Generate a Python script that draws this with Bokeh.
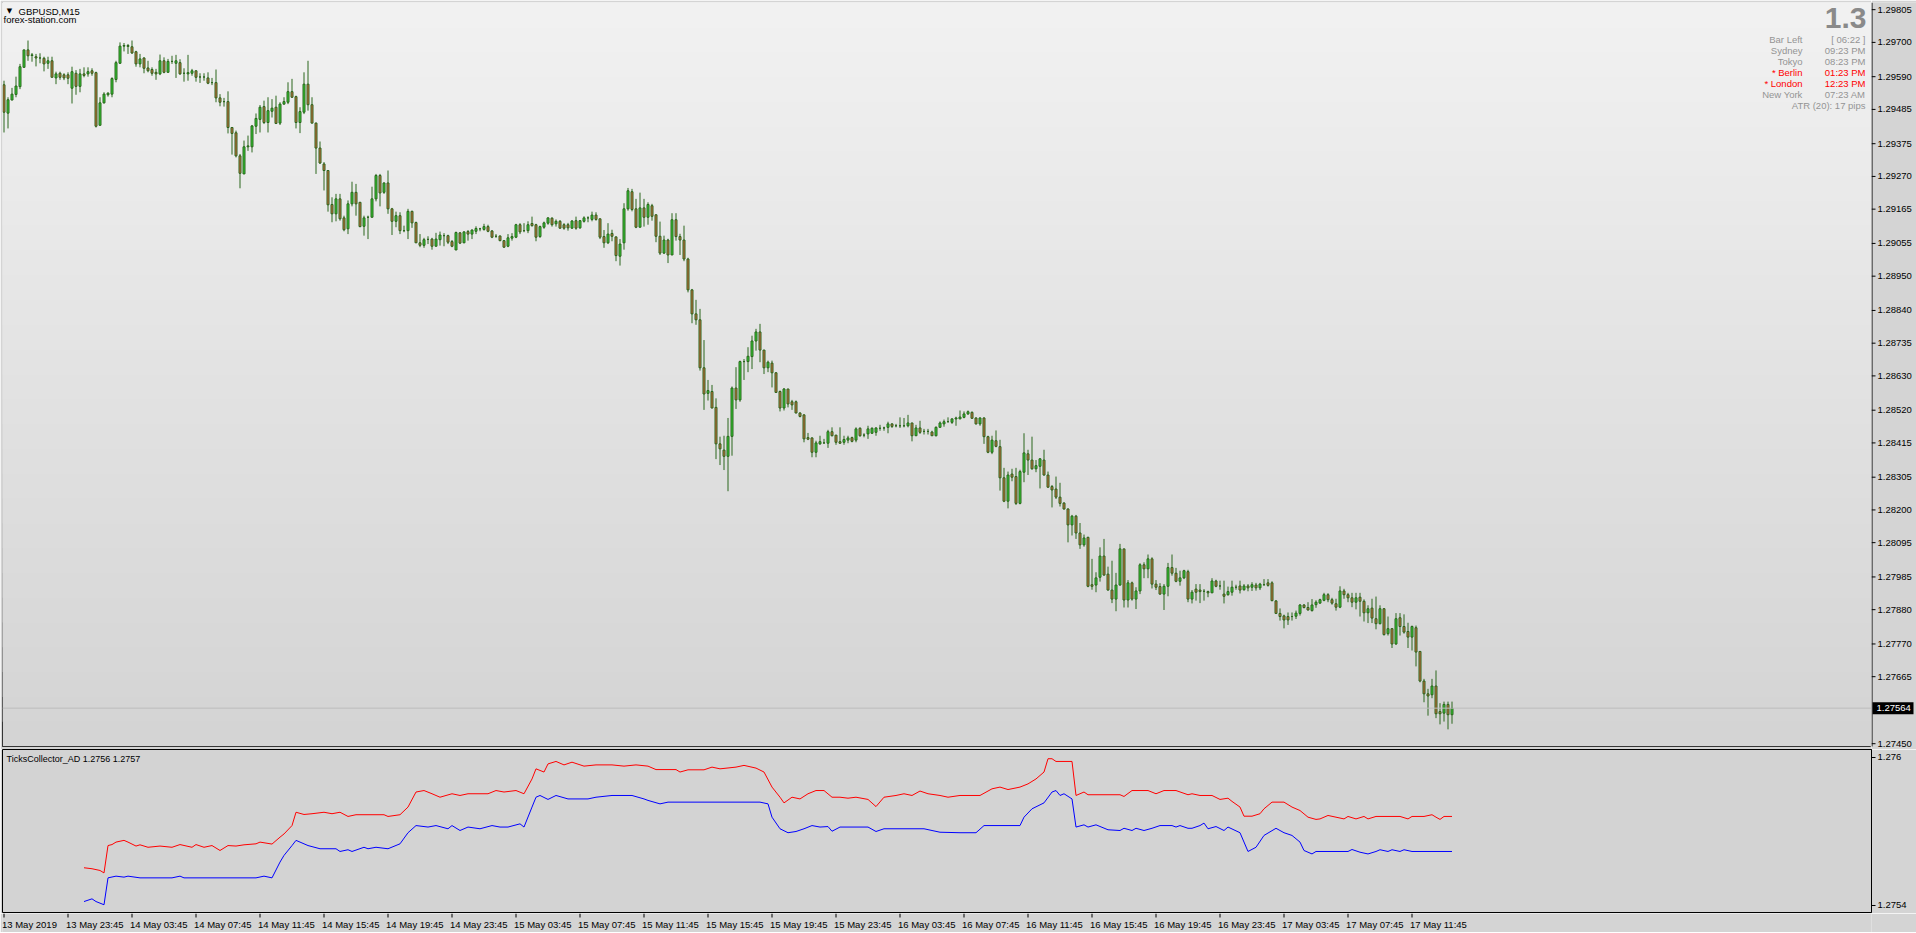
import numpy as np
from bokeh.plotting import figure
from bokeh.layouts import column, row
from bokeh.models import (ColumnDataSource, Range1d, FixedTicker, CustomJSTickFormatter,
                          Label, Span)
from bokeh.core.properties import value
from bokeh.embed import file_html
from bokeh.resources import INLINE

# ---------------- data (GBPUSD M15, bars from 13 May 2019 19:45) ----------------
OPEN = [
1.29564,1.29473,1.29515,1.29533,1.29558,1.29620,1.29676,1.29658,1.29654,1.29650,
1.29649,1.29633,1.29641,1.29586,1.29601,1.29596,1.29596,1.29553,1.29601,1.29559,
1.29599,1.29599,1.29609,1.29603,1.29434,1.29506,1.29532,1.29534,1.29581,1.29633,
1.29688,1.29690,1.29686,1.29670,1.29631,1.29650,1.29618,1.29613,1.29604,1.29599,
1.29641,1.29604,1.29639,1.29633,1.29635,1.29601,1.29599,1.29601,1.29609,1.29589,
1.29589,1.29586,1.29571,1.29571,1.29522,1.29510,1.29510,1.29427,1.29410,1.29336,
1.29278,1.29365,1.29365,1.29431,1.29453,1.29494,1.29443,1.29479,1.29492,1.29441,
1.29502,1.29508,1.29542,1.29526,1.29443,1.29476,1.29566,1.29500,1.29441,1.29361,
1.29310,1.29289,1.29180,1.29150,1.29198,1.29137,1.29102,1.29182,1.29219,1.29187,
1.29110,1.29139,1.29139,1.29198,1.29273,1.29219,1.29249,1.29166,1.29126,1.29144,
1.29096,1.29096,1.29158,1.29122,1.29057,1.29049,1.29068,1.29069,1.29046,1.29067,
1.29080,1.29080,1.29061,1.29034,1.29089,1.29057,1.29093,1.29085,1.29094,1.29102,
1.29100,1.29109,1.29095,1.29078,1.29079,1.29064,1.29046,1.29072,1.29075,1.29115,
1.29096,1.29096,1.29119,1.29115,1.29077,1.29107,1.29120,1.29136,1.29118,1.29126,
1.29115,1.29115,1.29104,1.29128,1.29105,1.29126,1.29137,1.29132,1.29146,1.29134,
1.29077,1.29057,1.29087,1.29076,1.29014,1.29057,1.29166,1.29221,1.29166,1.29107,
1.29169,1.29139,1.29176,1.29147,1.29078,1.29024,1.29066,1.29018,1.29131,1.29077,
1.29066,1.29005,1.28906,1.28829,1.28810,1.28656,1.28574,1.28580,1.28529,1.28412,
1.28392,1.28372,1.28436,1.28591,1.28553,1.28676,1.28676,1.28692,1.28742,1.28771,
1.28713,1.28656,1.28671,1.28640,1.28580,1.28527,1.28588,1.28547,1.28547,1.28511,
1.28505,1.28432,1.28431,1.28385,1.28412,1.28415,1.28414,1.28451,1.28440,1.28419,
1.28417,1.28424,1.28432,1.28424,1.28462,1.28440,1.28444,1.28446,1.28449,1.28462,
1.28463,1.28465,1.28476,1.28470,1.28470,1.28470,1.28470,1.28479,1.28438,1.28463,
1.28452,1.28452,1.28450,1.28438,1.28465,1.28476,1.28483,1.28481,1.28492,1.28492,
1.28497,1.28508,1.28513,1.28495,1.28476,1.28495,1.28435,1.28385,1.28422,1.28403,
1.28303,1.28228,1.28315,1.28307,1.28221,1.28321,1.28380,1.28360,1.28332,1.28340,
1.28360,1.28312,1.28275,1.28267,1.28241,1.28222,1.28203,1.28152,1.28180,1.28126,
1.28088,1.28112,1.27960,1.27959,1.27984,1.28052,1.27994,1.27943,1.27914,1.27959,
1.28075,1.27911,1.27966,1.27914,1.27940,1.28024,1.28011,1.28043,1.27962,1.27954,
1.27930,1.27955,1.28015,1.27997,1.27971,1.27982,1.28002,1.27914,1.27946,1.27943,
1.27939,1.27938,1.27934,1.27972,1.27956,1.27930,1.27928,1.27936,1.27952,1.27956,
1.27944,1.27956,1.27952,1.27959,1.27950,1.27960,1.27966,1.27966,1.27908,1.27868,
1.27860,1.27858,1.27858,1.27859,1.27868,1.27895,1.27887,1.27877,1.27896,1.27901,
1.27910,1.27928,1.27912,1.27899,1.27888,1.27940,1.27928,1.27918,1.27904,1.27920,
1.27907,1.27870,1.27885,1.27851,1.27835,1.27883,1.27803,1.27819,1.27770,1.27854,
1.27826,1.27810,1.27792,1.27822,1.27746,1.27651,1.27610,1.27607,1.27635,1.27553,
1.27548,1.27576,1.27543]

HIGH = [
1.29577,1.29524,1.29554,1.29590,1.29631,1.29676,1.29706,1.29666,1.29663,1.29665,
1.29654,1.29654,1.29654,1.29606,1.29606,1.29601,1.29604,1.29622,1.29611,1.29615,
1.29620,1.29620,1.29617,1.29606,1.29524,1.29540,1.29540,1.29588,1.29641,1.29700,
1.29698,1.29695,1.29706,1.29673,1.29663,1.29652,1.29641,1.29620,1.29615,1.29661,
1.29652,1.29647,1.29657,1.29660,1.29646,1.29617,1.29660,1.29615,1.29609,1.29601,
1.29601,1.29604,1.29586,1.29613,1.29534,1.29522,1.29543,1.29427,1.29417,1.29342,
1.29385,1.29401,1.29435,1.29472,1.29499,1.29513,1.29524,1.29518,1.29529,1.29508,
1.29524,1.29572,1.29583,1.29529,1.29492,1.29604,1.29641,1.29524,1.29443,1.29382,
1.29316,1.29289,1.29203,1.29214,1.29214,1.29144,1.29193,1.29253,1.29246,1.29187,
1.29144,1.29144,1.29237,1.29278,1.29278,1.29251,1.29289,1.29169,1.29157,1.29155,
1.29112,1.29166,1.29160,1.29125,1.29085,1.29073,1.29078,1.29073,1.29089,1.29093,
1.29088,1.29083,1.29066,1.29093,1.29091,1.29094,1.29098,1.29100,1.29110,1.29105,
1.29118,1.29115,1.29098,1.29085,1.29080,1.29066,1.29085,1.29088,1.29118,1.29120,
1.29120,1.29126,1.29141,1.29118,1.29112,1.29125,1.29139,1.29139,1.29132,1.29130,
1.29120,1.29121,1.29130,1.29141,1.29130,1.29142,1.29142,1.29157,1.29155,1.29134,
1.29098,1.29120,1.29099,1.29077,1.29069,1.29184,1.29233,1.29230,1.29198,1.29218,
1.29198,1.29187,1.29182,1.29147,1.29125,1.29080,1.29070,1.29152,1.29152,1.29086,
1.29112,1.29009,1.28909,1.28874,1.28845,1.28745,1.28617,1.28601,1.28558,1.28435,
1.28438,1.28495,1.28596,1.28658,1.28679,1.28684,1.28722,1.28759,1.28781,1.28797,
1.28713,1.28679,1.28679,1.28642,1.28583,1.28591,1.28588,1.28553,1.28551,1.28513,
1.28506,1.28447,1.28433,1.28422,1.28438,1.28428,1.28457,1.28465,1.28440,1.28465,
1.28438,1.28438,1.28435,1.28465,1.28465,1.28446,1.28470,1.28465,1.28465,1.28473,
1.28467,1.28483,1.28478,1.28476,1.28497,1.28495,1.28505,1.28479,1.28473,1.28486,
1.28460,1.28460,1.28454,1.28468,1.28484,1.28490,1.28497,1.28494,1.28499,1.28519,
1.28516,1.28519,1.28516,1.28497,1.28497,1.28497,1.28438,1.28438,1.28455,1.28425,
1.28335,1.28323,1.28332,1.28335,1.28329,1.28446,1.28393,1.28435,1.28360,1.28366,
1.28393,1.28323,1.28280,1.28307,1.28287,1.28225,1.28205,1.28184,1.28184,1.28158,
1.28121,1.28114,1.28043,1.28000,1.28080,1.28107,1.28018,1.28037,1.27998,1.28091,
1.28075,1.27975,1.27970,1.27952,1.28029,1.28032,1.28057,1.28048,1.27975,1.27965,
1.27962,1.28030,1.28057,1.28014,1.28005,1.28008,1.28008,1.27943,1.27962,1.27962,
1.27946,1.27941,1.27981,1.27976,1.27973,1.27973,1.27954,1.27973,1.27960,1.27973,
1.27962,1.27962,1.27968,1.27966,1.27966,1.27978,1.27978,1.27971,1.27911,1.27884,
1.27864,1.27871,1.27871,1.27877,1.27898,1.27898,1.27904,1.27914,1.27910,1.27915,
1.27934,1.27933,1.27918,1.27915,1.27955,1.27947,1.27934,1.27934,1.27934,1.27934,
1.27913,1.27894,1.27915,1.27922,1.27894,1.27885,1.27858,1.27821,1.27869,1.27869,
1.27865,1.27838,1.27829,1.27829,1.27746,1.27658,1.27626,1.27658,1.27685,1.27580,
1.27585,1.27585,1.27585]

LOW = [
1.29411,1.29424,1.29515,1.29524,1.29550,1.29620,1.29641,1.29638,1.29623,1.29633,
1.29607,1.29615,1.29588,1.29566,1.29580,1.29579,1.29566,1.29504,1.29532,1.29540,
1.29588,1.29590,1.29593,1.29427,1.29434,1.29504,1.29526,1.29524,1.29572,1.29631,
1.29671,1.29663,1.29663,1.29622,1.29620,1.29601,1.29604,1.29593,1.29580,1.29595,
1.29601,1.29604,1.29631,1.29586,1.29596,1.29574,1.29577,1.29593,1.29574,1.29570,
1.29577,1.29566,1.29563,1.29508,1.29495,1.29494,1.29408,1.29340,1.29331,1.29232,
1.29278,1.29352,1.29347,1.29406,1.29411,1.29438,1.29411,1.29459,1.29438,1.29435,
1.29500,1.29502,1.29522,1.29424,1.29409,1.29470,1.29481,1.29440,1.29278,1.29310,
1.29225,1.29157,1.29123,1.29126,1.29128,1.29094,1.29085,1.29174,1.29144,1.29107,
1.29080,1.29069,1.29139,1.29190,1.29174,1.29214,1.29150,1.29082,1.29107,1.29085,
1.29091,1.29069,1.29105,1.29057,1.29043,1.29041,1.29053,1.29035,1.29046,1.29048,
1.29046,1.29053,1.29043,1.29034,1.29053,1.29056,1.29064,1.29069,1.29085,1.29094,
1.29096,1.29091,1.29072,1.29073,1.29062,1.29041,1.29043,1.29064,1.29072,1.29085,
1.29091,1.29088,1.29109,1.29062,1.29073,1.29102,1.29115,1.29109,1.29109,1.29102,
1.29099,1.29096,1.29102,1.29099,1.29102,1.29122,1.29123,1.29126,1.29128,1.29069,
1.29041,1.29053,1.29062,1.28998,1.28984,1.29035,1.29160,1.29158,1.29104,1.29107,
1.29109,1.29115,1.29128,1.29059,1.29018,1.29021,1.28992,1.29018,1.29064,1.29018,
1.28998,1.28898,1.28799,1.28794,1.28647,1.28521,1.28551,1.28526,1.28363,1.28344,
1.28328,1.28260,1.28374,1.28524,1.28547,1.28617,1.28642,1.28652,1.28711,1.28674,
1.28636,1.28642,1.28593,1.28577,1.28516,1.28519,1.28529,1.28521,1.28510,1.28497,
1.28417,1.28424,1.28369,1.28369,1.28409,1.28412,1.28399,1.28436,1.28409,1.28412,
1.28409,1.28414,1.28417,1.28417,1.28435,1.28433,1.28428,1.28444,1.28438,1.28454,
1.28454,1.28446,1.28463,1.28465,1.28463,1.28465,1.28465,1.28420,1.28438,1.28444,
1.28442,1.28442,1.28438,1.28436,1.28465,1.28467,1.28481,1.28476,1.28470,1.28492,
1.28494,1.28505,1.28492,1.28474,1.28470,1.28412,1.28382,1.28379,1.28401,1.28262,
1.28225,1.28205,1.28292,1.28216,1.28218,1.28289,1.28312,1.28329,1.28321,1.28269,
1.28310,1.28271,1.28208,1.28235,1.28211,1.28201,1.28096,1.28118,1.28107,1.28075,
1.28082,1.27952,1.27944,1.27936,1.27970,1.27989,1.27941,1.27901,1.27875,1.27957,
1.27887,1.27887,1.27909,1.27882,1.27930,1.27981,1.27981,1.27948,1.27943,1.27928,
1.27879,1.27923,1.27989,1.27968,1.27957,1.27978,1.27904,1.27900,1.27909,1.27901,
1.27909,1.27920,1.27934,1.27952,1.27944,1.27900,1.27925,1.27925,1.27944,1.27932,
1.27941,1.27939,1.27940,1.27941,1.27943,1.27957,1.27954,1.27907,1.27866,1.27845,
1.27820,1.27831,1.27845,1.27850,1.27861,1.27884,1.27877,1.27874,1.27886,1.27899,
1.27907,1.27904,1.27896,1.27877,1.27885,1.27915,1.27904,1.27888,1.27881,1.27858,
1.27842,1.27837,1.27837,1.27817,1.27833,1.27797,1.27797,1.27757,1.27767,1.27797,
1.27803,1.27757,1.27749,1.27698,1.27647,1.27583,1.27540,1.27596,1.27532,1.27512,
1.27521,1.27496,1.27514]

CLOSE = [
1.29476,1.29516,1.29534,1.29560,1.29622,1.29676,1.29657,1.29660,1.29650,1.29650,
1.29631,1.29641,1.29588,1.29599,1.29588,1.29586,1.29585,1.29606,1.29559,1.29599,
1.29594,1.29606,1.29601,1.29431,1.29506,1.29534,1.29537,1.29584,1.29635,1.29688,
1.29690,1.29687,1.29666,1.29631,1.29647,1.29617,1.29609,1.29601,1.29599,1.29641,
1.29604,1.29639,1.29639,1.29641,1.29599,1.29601,1.29603,1.29609,1.29588,1.29589,
1.29589,1.29569,1.29571,1.29522,1.29508,1.29510,1.29427,1.29408,1.29336,1.29280,
1.29365,1.29368,1.29432,1.29456,1.29492,1.29443,1.29481,1.29489,1.29440,1.29502,
1.29510,1.29542,1.29524,1.29443,1.29478,1.29566,1.29500,1.29441,1.29361,1.29313,
1.29289,1.29179,1.29150,1.29198,1.29134,1.29099,1.29182,1.29219,1.29182,1.29109,
1.29137,1.29139,1.29198,1.29273,1.29217,1.29249,1.29166,1.29126,1.29144,1.29096,
1.29096,1.29158,1.29121,1.29057,1.29049,1.29067,1.29068,1.29046,1.29069,1.29082,
1.29080,1.29059,1.29046,1.29090,1.29056,1.29092,1.29085,1.29098,1.29103,1.29102,
1.29109,1.29094,1.29075,1.29078,1.29064,1.29043,1.29073,1.29077,1.29115,1.29092,
1.29096,1.29115,1.29112,1.29075,1.29109,1.29121,1.29137,1.29115,1.29126,1.29104,
1.29104,1.29105,1.29127,1.29104,1.29128,1.29137,1.29137,1.29146,1.29132,1.29075,
1.29057,1.29085,1.29078,1.29016,1.29053,1.29166,1.29224,1.29164,1.29107,1.29169,
1.29139,1.29180,1.29142,1.29078,1.29024,1.29066,1.29018,1.29131,1.29077,1.29066,
1.29005,1.28906,1.28829,1.28810,1.28656,1.28572,1.28583,1.28527,1.28412,1.28396,
1.28372,1.28436,1.28591,1.28553,1.28676,1.28676,1.28693,1.28742,1.28771,1.28713,
1.28656,1.28674,1.28640,1.28577,1.28527,1.28588,1.28540,1.28537,1.28511,1.28500,
1.28428,1.28427,1.28385,1.28415,1.28419,1.28415,1.28451,1.28438,1.28417,1.28414,
1.28426,1.28431,1.28420,1.28460,1.28438,1.28440,1.28460,1.28462,1.28463,1.28462,
1.28463,1.28476,1.28468,1.28470,1.28470,1.28470,1.28479,1.28438,1.28463,1.28449,
1.28452,1.28452,1.28438,1.28465,1.28479,1.28483,1.28483,1.28492,1.28495,1.28498,
1.28508,1.28515,1.28494,1.28476,1.28495,1.28435,1.28385,1.28424,1.28404,1.28303,
1.28228,1.28312,1.28305,1.28221,1.28323,1.28383,1.28360,1.28332,1.28342,1.28364,
1.28312,1.28273,1.28264,1.28241,1.28221,1.28203,1.28152,1.28180,1.28126,1.28088,
1.28110,1.27955,1.27955,1.27982,1.28052,1.27991,1.27943,1.27914,1.27959,1.28075,
1.27911,1.27966,1.27914,1.27940,1.28024,1.28011,1.28043,1.27962,1.27952,1.27930,
1.27955,1.28015,1.27997,1.27971,1.27982,1.28005,1.27914,1.27936,1.27936,1.27938,
1.27939,1.27934,1.27972,1.27955,1.27956,1.27923,1.27938,1.27952,1.27952,1.27943,
1.27956,1.27950,1.27960,1.27950,1.27962,1.27960,1.27958,1.27909,1.27868,1.27858,
1.27847,1.27847,1.27858,1.27869,1.27895,1.27887,1.27879,1.27895,1.27904,1.27912,
1.27928,1.27912,1.27901,1.27888,1.27940,1.27928,1.27918,1.27904,1.27918,1.27907,
1.27870,1.27883,1.27853,1.27835,1.27883,1.27800,1.27819,1.27770,1.27851,1.27826,
1.27808,1.27792,1.27826,1.27744,1.27651,1.27610,1.27603,1.27635,1.27546,1.27546,
1.27576,1.27543,1.27564]

CURRENT_PRICE = 1.27564

# TicksCollector_AD indicator (bar index, value) read from the sub-window
AD_RED_BAR = [20,22,24,25,26,27,28,30,31,33,34,36,39,42,44,47,48,50,52,54,56,58,60,63,64,67,69,70,72,73,
              75,77,80,82,84,86,88,91,95,96,99,101,103,105,107,109,112,114,116,121,123,125,128,130,132,133,135,136,138,140,
              142,145,148,152,155,158,161,163,168,169,171,175,177,179,183,185,188,190,192,194,195,197,199,201,203,205,207,209,211,213,
              216,218,220,223,225,227,229,231,234,236,239,241,244,247,249,251,254,256,258,260,261,262,263,267,268,270,271,274,279,280,
              282,286,288,290,293,296,297,299,302,304,306,307,309,310,312,314,315,317,320,322,324,326,328,329,331,333,335,336,338,340,
              341,343,349,351,352,355,357,358,359,360,362]
AD_RED_VAL = [1.275553,1.275549,1.275542,1.275532,1.275643,1.275647,1.275657,1.275664,1.275657,1.275641,
              1.275646,1.275636,1.275641,1.275636,1.275647,1.275636,1.275647,1.275636,1.275643,1.275623,
              1.275643,1.275641,1.275646,1.275650,1.275657,1.275649,1.275677,1.275690,1.275724,1.275778,
              1.275769,1.275772,1.275778,1.275772,1.275778,1.275761,1.275768,1.275768,1.275768,1.275761,
              1.275768,1.275799,1.275860,1.275866,1.275853,1.275839,1.275853,1.275846,1.275853,1.275853,
              1.275866,1.275860,1.275866,1.275853,1.275913,1.275954,1.275941,1.275974,1.275984,1.275970,
              1.275981,1.275965,1.275970,1.275970,1.275965,1.275970,1.275965,1.275951,1.275951,1.275941,
              1.275950,1.275950,1.275961,1.275954,1.275961,1.275968,1.275957,1.275941,1.275880,1.275839,
              1.275816,1.275839,1.275832,1.275853,1.275866,1.275866,1.275839,1.275839,1.275835,1.275839,
              1.275830,1.275801,1.275839,1.275846,1.275853,1.275846,1.275864,1.275853,1.275846,1.275839,
              1.275846,1.275846,1.275846,1.275873,1.275880,1.275870,1.275880,1.275893,1.275913,1.275941,
              1.275995,1.275995,1.275984,1.275984,1.275846,1.275860,1.275849,1.275849,1.275849,1.275842,
              1.275866,1.275866,1.275853,1.275866,1.275866,1.275849,1.275853,1.275846,1.275846,1.275830,
              1.275835,1.275822,1.275799,1.275762,1.275762,1.275772,1.275792,1.275819,1.275819,1.275799,
              1.275785,1.275758,1.275749,1.275751,1.275765,1.275758,1.275751,1.275761,1.275751,1.275761,
              1.275751,1.275761,1.275761,1.275751,1.275761,1.275761,1.275768,1.275758,1.275749,1.275761,
              1.275761]
AD_BLUE_BAR = [20,22,23,25,26,28,30,31,34,42,44,45,63,65,67,69,70,72,73,76,79,83,84,86,87,90,91,93,96,99,
               101,103,106,108,111,112,114,116,119,122,124,126,129,130,132,133,134,136,138,141,146,148,152,157,160,161,164,166,189,191,
               192,194,196,198,200,202,204,206,207,209,216,218,220,230,232,234,239,243,245,254,255,257,260,262,263,264,265,267,268,270,
               271,273,276,279,280,282,283,285,287,289,292,293,294,296,297,299,300,301,303,305,306,309,311,313,315,318,320,322,324,325,
               327,328,336,337,339,341,343,344,346,347,349,350,352,362]
AD_BLUE_VAL = [1.275416,1.275427,1.275416,1.275403,1.275512,1.275519,1.275515,1.275519,1.275512,1.275512,
               1.275519,1.275512,1.275512,1.275519,1.275512,1.275576,1.275603,1.275643,1.275664,1.275643,
               1.275630,1.275630,1.275619,1.275626,1.275619,1.275636,1.275630,1.275636,1.275630,1.275650,
               1.275695,1.275724,1.275718,1.275724,1.275711,1.275724,1.275704,1.275718,1.275711,1.275724,
               1.275718,1.275718,1.275731,1.275718,1.275799,1.275839,1.275846,1.275830,1.275846,1.275832,
               1.275832,1.275839,1.275846,1.275846,1.275832,1.275826,1.275812,1.275819,1.275819,1.275812,
               1.275758,1.275711,1.275695,1.275700,1.275711,1.275724,1.275718,1.275720,1.275701,1.275718,
               1.275718,1.275700,1.275711,1.275711,1.275704,1.275697,1.275695,1.275695,1.275724,1.275724,
               1.275758,1.275792,1.275816,1.275860,1.275866,1.275846,1.275853,1.275832,1.275718,1.275727,
               1.275718,1.275727,1.275707,1.275704,1.275713,1.275704,1.275713,1.275704,1.275713,1.275724,
               1.275724,1.275718,1.275724,1.275713,1.275713,1.275724,1.275734,1.275711,1.275720,1.275704,
               1.275718,1.275695,1.275619,1.275636,1.275684,1.275713,1.275695,1.275684,1.275657,1.275623,
               1.275609,1.275619,1.275619,1.275627,1.275616,1.275609,1.275619,1.275626,1.275619,1.275626,
               1.275619,1.275626,1.275619,1.275619]

Y_TICKS = [1.29805,1.29700,1.29590,1.29485,1.29375,1.29270,1.29165,1.29055,1.28950,1.28840,1.28735,
           1.28630,1.28520,1.28415,1.28305,1.28200,1.28095,1.27985,1.27880,1.27770,1.27665,1.27450]
AD_TICKS = [1.2754, 1.276]
X_TICK_BARS = [0,16,32,48,64,80,96,112,128,144,160,176,192,208,224,240,256,272,288,304,320,336,352]
X_TICK_LABELS = ["13 May 2019","13 May 23:45","14 May 03:45","14 May 07:45","14 May 11:45","14 May 15:45",
                 "14 May 19:45","14 May 23:45","15 May 03:45","15 May 07:45","15 May 11:45","15 May 15:45",
                 "15 May 19:45","15 May 23:45","16 May 03:45","16 May 07:45","16 May 11:45","16 May 15:45",
                 "16 May 19:45","16 May 23:45","17 May 03:45","17 May 07:45","17 May 11:45"]
INFO_ROWS = [("Bar Left", "[ 06:22 ]", "#949494"), ("Sydney", "09:23 PM", "#949494"),
             ("Tokyo", "08:23 PM", "#949494"), ("* Berlin", "01:23 PM", "#ff0000"),
             ("* London", "12:23 PM", "#ff0000"), ("New York", "07:23 AM", "#949494")]

# ---------------- style ----------------
FONT = "Liberation Sans"
FS = "9.5px"
BULL = "#32cd32"
BEAR = "#d0693c"
WICK = "#2a661c"
PANEL = "#d4d4d4"
FW, H1, H2 = 1869, 744, 163
AXW = 45
SH = 19
X0 = -0.375
X1 = X0 + FW / 4.0
Y1LO, Y1HI = 1.27441, 1.29828
Y2LO, Y2HI = 1.2753716, 1.2760324
PX = (Y1HI - Y1LO) / H1          # price per pixel in the main panel


def lab(p, x, y, text, color="black", size=FS, align="left", baseline="middle",
        style="normal", font=FONT):
    p.add_layout(Label(x=x, y=y, x_units="screen", y_units="screen", text=text, text_color=color,
                       text_font=font, text_font_size=size, text_align=align,
                       text_baseline=baseline, text_font_style=style))


def base_fig(**kw):
    p = figure(toolbar_location=None, output_backend="svg", **kw)
    p.xgrid.visible = False
    p.ygrid.visible = False
    p.border_fill_color = PANEL
    p.background_fill_color = PANEL
    return p


# ---------------- main price panel ----------------
o = np.array(OPEN); h = np.array(HIGH); l = np.array(LOW); c = np.array(CLOSE)
idx = np.arange(len(c))
top = np.maximum(o, c); bot = np.minimum(o, c)
hi = np.maximum(h, top); lo = np.minimum(l, bot)
fill = [BULL if cc >= oo else BEAR for oo, cc in zip(o, c)]

p1 = base_fig(frame_width=FW, frame_height=H1, x_range=Range1d(X0, X1), y_range=Range1d(Y1LO, Y1HI),
              x_axis_location=None, y_axis_location=None,
              min_border_left=2, min_border_right=0, min_border_top=2, min_border_bottom=3)
p1.outline_line_color = "black"
p1.outline_line_width = 1

# vertical background gradient (light at top, grey at bottom)
NB = 30
band_bottom = Y1LO + (Y1HI - Y1LO) * np.arange(NB) / NB
lev = np.round(212 + (241 - 212) * (np.arange(NB) + 0.5) / NB).astype(int)
band_col = ["#%02x%02x%02x" % (v, v, v) for v in lev]
p1.quad(left=X0, right=X1, bottom=band_bottom, top=Y1HI, fill_color=band_col, line_color=None)

p1.add_layout(Span(location=CURRENT_PRICE, dimension="width", line_color="#bdbdbd", line_width=1))

src = ColumnDataSource(dict(x=idx, hi=hi, lo=lo, top=top, bot=bot, fill=fill))
p1.segment(x0="x", y0="lo", x1="x", y1="hi", source=src, line_color=WICK, line_width=1)
p1.vbar(x="x", width=0.5, top="top", bottom="bot", source=src, fill_color="fill",
        line_color=WICK, line_width=1)

# top-left symbol caption
lab(p1, 7, H1 - 8.5, "▼", size="7px", align="center", font="DejaVu Sans")
lab(p1, 16, H1 - 8.5, "GBPUSD,M15")
lab(p1, 1, H1 - 16.7, "forex-station.com")

# top-right info box
lab(p1, FW - 5, H1 - 15, "1.3", color="#8a8a8a", size="30px", align="right", style="bold")
for k, (name, val, col) in enumerate(INFO_ROWS):
    yy = H1 - (37 + 11 * k)
    lab(p1, FW - 69, yy, name, color=col, align="right")
    lab(p1, FW - 6, yy, val, color=col, align="right")
lab(p1, FW - 6, H1 - 103, "ATR (20): 17 pips", color="#949494", align="right")

# ---------------- main price scale (own strip, same price scale) ----------------
pA = base_fig(frame_width=AXW, frame_height=H1 + 3, x_range=Range1d(0, AXW),
              y_range=Range1d(Y1LO - 3 * PX, Y1HI), x_axis_location=None, y_axis_location=None,
              min_border_left=0, min_border_right=0, min_border_top=2, min_border_bottom=0)
pA.outline_line_color = None
pA.segment(x0=0.5, y0=Y1LO, x1=0.5, y1=Y1HI, line_color="black", line_width=1)
pA.segment(x0=0, y0=Y_TICKS, x1=4, y1=Y_TICKS, line_color="black", line_width=1)
pA.text(x=6, y=Y_TICKS, text=["%.5f" % t for t in Y_TICKS], text_font=value(FONT),
        text_font_size=value(FS), text_color="black", text_align="left", text_baseline="middle")
# current price tag
pA.quad(left=1, right=AXW - 3, bottom=CURRENT_PRICE - 6 * PX, top=CURRENT_PRICE + 6 * PX,
        fill_color="black", line_color=None)
pA.text(x=5, y=[CURRENT_PRICE], text=["%.5f" % CURRENT_PRICE], text_font=value(FONT),
        text_font_size=value(FS), text_color="white", text_align="left", text_baseline="middle")

# ---------------- indicator panel ----------------
p2 = base_fig(frame_width=FW, frame_height=H2, x_range=p1.x_range, y_range=Range1d(Y2LO, Y2HI),
              x_axis_location=None, y_axis_location="right",
              min_border_left=2, min_border_right=AXW, min_border_top=0, min_border_bottom=1)
p2.background_fill_color = "#d3d3d3"
p2.outline_line_color = "black"
p2.outline_line_width = 1

p2.line(x=AD_RED_BAR, y=AD_RED_VAL, line_color="#ff0000", line_width=1)
p2.line(x=AD_BLUE_BAR, y=AD_BLUE_VAL, line_color="#0000ff", line_width=1)

ax2 = p2.yaxis[0]
ax2.ticker = FixedTicker(ticks=AD_TICKS)
ax2.formatter = CustomJSTickFormatter(code="return tick.toFixed(4).replace(/0+$/, '');")
ax2.axis_line_color = "black"
ax2.major_tick_line_color = "black"
ax2.major_tick_out = 4
ax2.major_tick_in = 0
ax2.minor_tick_line_color = None
ax2.major_label_text_font = FONT
ax2.major_label_text_font_size = FS
ax2.major_label_text_color = "black"
ax2.major_label_standoff = 2

lab(p2, 4, H2 - 9, "TicksCollector_AD 1.2756 1.2757", size="9px")

# ---------------- time scale strip ----------------
pS = base_fig(frame_width=FW, frame_height=SH, x_range=p1.x_range, y_range=Range1d(0, SH),
              x_axis_location=None, y_axis_location=None,
              min_border_left=2, min_border_right=AXW, min_border_top=0, min_border_bottom=0)
pS.outline_line_color = None
pS.segment(x0=X_TICK_BARS, y0=SH, x1=X_TICK_BARS, y1=SH - 4, line_color="black", line_width=1)
pS.text(x=X_TICK_BARS, y=SH - 5, text=X_TICK_LABELS, x_offset=-2, text_font=value(FONT),
        text_font_size=value(FS), text_color="black", text_align="left", text_baseline="top")

layout = column(row(p1, pA, spacing=0), p2, pS, spacing=0)
open("out.html", "w").write(file_html(layout, INLINE))
